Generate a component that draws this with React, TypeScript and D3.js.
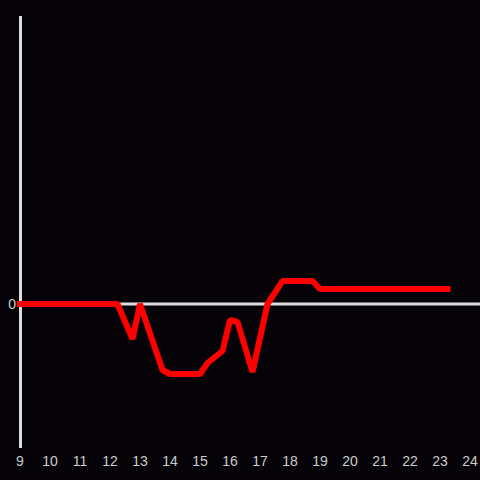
import React from "react";
import * as d3 from "d3";

const hours = [9, 12.25, 12.75, 13, 13.75, 14, 15, 15.25, 15.75, 16, 16.25, 16.75, 17.25, 17.75, 18.75, 19, 23.25];
const values = [0, 0, -35, 0, -66, -70, -70, -59, -47, -16, -18, -68, 0, 23, 23, 15, 15];
const xTicks = [9, 10, 11, 12, 13, 14, 15, 16, 17, 18, 19, 20, 21, 22, 23, 24];
const yTicks = [0];

const W = 480;
const H = 480;

export default function App() {
  const x = d3.scaleLinear().domain([9, 24]).range([20, 470]);
  const y = d3.scaleLinear().domain([-144, 288]).range([448, 16]);
  const data = hours.map((h, i) => ({ h, v: values[i] }));
  const line = d3
    .line<{ h: number; v: number }>()
    .x((d) => x(d.h))
    .y((d) => y(d.v));
  return (
    <svg
      width={W}
      height={H}
      style={{ position: "absolute", left: 0, top: 0, background: "#050307" }}
      fontFamily="'Liberation Sans', Arial, sans-serif"
    >
      <rect x={0} y={0} width={W} height={H} fill="#050307" />
      {yTicks.map((t) => (
        <g key={t}>
          <line x1={20} x2={W} y1={y(t)} y2={y(t)} stroke="#dddddd" strokeWidth={3} />
          <text x={16} y={y(t)} dy="0.35em" textAnchor="end" fill="#cccccc" fontSize={14}>
            {t}
          </text>
        </g>
      ))}
      <line x1={20.5} x2={20.5} y1={16} y2={448} stroke="#dddddd" strokeWidth={3} />
      {xTicks.map((t) => (
        <text key={t} x={x(t)} y={466} textAnchor="middle" fill="#cccccc" fontSize={14}>
          {t}
        </text>
      ))}
      <path
        d={line(data) || ""}
        fill="none"
        stroke="#ff0000"
        strokeWidth={6}
        strokeLinejoin="bevel"
        strokeLinecap="square"
      />
    </svg>
  );
}
